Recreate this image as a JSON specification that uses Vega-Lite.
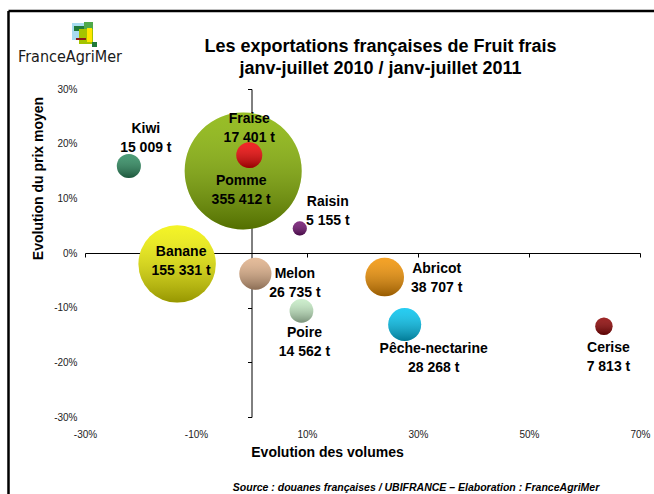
{
  "$schema": "https://vega.github.io/schema/vega-lite/v6.json",
  "width": 555,
  "height": 328,
  "autosize": {"type": "none"},
  "padding": {"left": 85, "top": 89, "right": 14, "bottom": 77},
  "background": "white",
  "config": {
    "view": {"stroke": null},
    "font": "Liberation Sans",
    "locale": {"number": {"decimal": ".", "thousands": " ", "grouping": [3], "currency": ["", ""], "minus": "-"}},
    "axis": {"labelFont": "Liberation Sans", "titleFont": "Liberation Sans"},
    "text": {"font": "Liberation Sans"}
  },
  "title": {
    "text": ["Les exportations françaises de Fruit frais", "janv-juillet 2010 / janv-juillet 2011"],
    "anchor": "middle",
    "frame": "group",
    "dx": 18,
    "baseline": "top",
    "offset": -68,
    "fontSize": 18,
    "fontWeight": "bold",
    "font": "Liberation Sans",
    "color": "#000000",
    "lineHeight": 22
  },
  "datasets": {
    "fruits": [
      {"fruit": "Pomme", "volume": 355412, "x": -0.015, "y": 0.150, "label": "Pomme\n355 412 t"},
      {"fruit": "Banane", "volume": 155331, "x": -0.134, "y": -0.020, "label": "Banane\n155 331 t"},
      {"fruit": "Abricot", "volume": 38707, "x": 0.240, "y": -0.044, "label": "Abricot\n38 707 t"},
      {"fruit": "Pêche-nectarine", "volume": 28268, "x": 0.276, "y": -0.131, "label": "Pêche-nectarine\n28 268 t"},
      {"fruit": "Melon", "volume": 26735, "x": 0.007, "y": -0.038, "label": "Melon\n26 735 t"},
      {"fruit": "Fraise", "volume": 17401, "x": -0.004, "y": 0.179, "label": "Fraise\n17 401 t"},
      {"fruit": "Kiwi", "volume": 15009, "x": -0.221, "y": 0.159, "label": "Kiwi\n15 009 t"},
      {"fruit": "Poire", "volume": 14562, "x": 0.090, "y": -0.106, "label": "Poire\n14 562 t"},
      {"fruit": "Cerise", "volume": 7813, "x": 0.635, "y": -0.134, "label": "Cerise\n7 813 t"},
      {"fruit": "Raisin", "volume": 5155, "x": 0.087, "y": 0.045, "label": "Raisin\n5 155 t"}
    ],
    "notes": [
      {"note": "Source : douanes françaises / UBIFRANCE – Elaboration : FranceAgriMer", "logo": "FranceAgriMer"}
    ]
  },
  "layer": [
    {
      "data": {"name": "fruits"},
      "transform": [{"filter": "datum.volume > 100000"}],
      "mark": {"type": "point", "shape": "circle", "filled": true, "opacity": 1, "strokeWidth": 0},
      "encoding": {
        "x": {"field": "x", "type": "quantitative", "scale": {"domain": [-0.3, 0.7], "nice": false, "zero": false},
          "axis": {"orient": "bottom", "values": [-0.3, -0.1, 0.1, 0.3, 0.5, 0.7], "format": ".0%", "domain": false, "ticks": false, "grid": false,
            "labelPadding": 12, "labelFontSize": 10, "labelColor": "#222222", "labelFlush": false, "labelOverlap": false, "labelBound": false,
            "title": "Evolution des volumes", "titleFontSize": 14, "titleFontWeight": "bold", "titleColor": "#000000",
            "titleX": 242, "titleY": 35, "titleAlign": "center", "titleBaseline": "middle"}},
        "y": {"field": "y", "type": "quantitative", "scale": {"domain": [-0.3, 0.3], "nice": false, "zero": false},
          "axis": {"orient": "left", "values": [-0.3, -0.2, -0.1, 0, 0.1, 0.2, 0.3], "format": ".0%", "domain": false, "ticks": false, "grid": false,
            "labelPadding": 8, "labelFontSize": 10, "labelColor": "#222222", "labelFlush": false, "labelOverlap": false, "labelBound": false,
            "title": "Evolution du prix moyen", "titleFontSize": 14, "titleFontWeight": "bold", "titleColor": "#000000",
            "titleX": -47, "titleY": 89, "titleAlign": "center", "titleBaseline": "middle", "titleAngle": -90}},
        "size": {"field": "volume", "type": "quantitative", "scale": {"type": "linear", "domain": [0, 355412], "range": [0, 13685]}, "legend": null},
        "color": {"field": "fruit", "type": "nominal", "legend": null,
          "scale": {"domain": ["Pomme", "Banane", "Abricot", "Pêche-nectarine", "Melon", "Fraise", "Kiwi", "Poire", "Cerise", "Raisin"],
            "range": ["#86b300", "#f2f200", "#f39200", "#00c4f0", "#e0b088", "#f00000", "#2b8a5e", "#c4ebc4", "#8c0000", "#6e0f6e"]}},
        "order": {"field": "volume", "type": "quantitative", "sort": "descending"}
      }
    },
    {
      "data": {"name": "fruits"},
      "transform": [{"filter": "datum.volume > 100000"}],
      "mark": {"type": "point", "shape": "circle", "filled": true, "opacity": 1, "strokeWidth": 0,
        "fill": {"gradient": "linear", "x1": 0, "y1": 0, "x2": 0, "y2": 1,
          "stops": [{"offset": 0, "color": "rgba(255,255,255,0.15)"}, {"offset": 1, "color": "rgba(0,0,0,0.38)"}]}},
      "encoding": {
        "x": {"field": "x", "type": "quantitative", "scale": {"domain": [-0.3, 0.7], "nice": false, "zero": false},
          "axis": {"orient": "bottom", "offset": -164, "values": [-0.3, -0.1, 0.1, 0.3, 0.5, 0.7], "labels": false, "title": null, "grid": false,
            "domain": true, "domainColor": "#000000", "domainWidth": 1, "ticks": true, "tickColor": "#000000", "tickWidth": 1, "tickSize": 4}},
        "y": {"field": "y", "type": "quantitative", "scale": {"domain": [-0.3, 0.3], "nice": false, "zero": false},
          "axis": {"orient": "left", "offset": -166.5, "values": [-0.3, -0.2, -0.1, 0, 0.1, 0.2, 0.3], "labels": false, "title": null, "grid": false,
            "domain": true, "domainColor": "#000000", "domainWidth": 1, "ticks": true, "tickColor": "#000000", "tickWidth": 1, "tickSize": 4}},
        "size": {"field": "volume", "type": "quantitative", "legend": null},
        "order": {"field": "volume", "type": "quantitative", "sort": "descending"}
      }
    },
    {
      "data": {"name": "fruits"},
      "transform": [{"filter": "datum.volume <= 100000"}],
      "mark": {"type": "point", "shape": "circle", "filled": true, "opacity": 1, "strokeWidth": 0},
      "encoding": {
        "x": {"field": "x", "type": "quantitative", "scale": {"domain": [-0.3, 0.7], "nice": false, "zero": false}, "axis": null},
        "y": {"field": "y", "type": "quantitative", "scale": {"domain": [-0.3, 0.3], "nice": false, "zero": false}, "axis": null},
        "size": {"field": "volume", "type": "quantitative", "legend": null},
        "color": {"field": "fruit", "type": "nominal", "legend": null},
        "order": {"field": "volume", "type": "quantitative", "sort": "descending"}
      }
    },
    {
      "data": {"name": "fruits"},
      "transform": [{"filter": "datum.volume <= 100000"}],
      "mark": {"type": "point", "shape": "circle", "filled": true, "opacity": 1, "strokeWidth": 0,
        "fill": {"gradient": "linear", "x1": 0, "y1": 0, "x2": 0, "y2": 1,
          "stops": [{"offset": 0, "color": "rgba(255,255,255,0.15)"}, {"offset": 1, "color": "rgba(0,0,0,0.38)"}]}},
      "encoding": {
        "x": {"field": "x", "type": "quantitative", "scale": {"domain": [-0.3, 0.7], "nice": false, "zero": false}, "axis": null},
        "y": {"field": "y", "type": "quantitative", "scale": {"domain": [-0.3, 0.3], "nice": false, "zero": false}, "axis": null},
        "size": {"field": "volume", "type": "quantitative", "legend": null},
        "order": {"field": "volume", "type": "quantitative", "sort": "descending"}
      }
    },
    {
      "data": {"name": "fruits"},
      "layer": [
        {"transform": [{"filter": "datum.fruit === 'Kiwi'"}],
         "mark": {"type": "text", "dx": 17, "dy": -33, "lineBreak": "\n", "lineHeight": 19, "fontSize": 14, "fontWeight": "bold", "color": "#000000", "align": "center", "baseline": "alphabetic"}},
        {"transform": [{"filter": "datum.fruit === 'Fraise'"}],
         "mark": {"type": "text", "dx": 0, "dy": -32.5, "lineBreak": "\n", "lineHeight": 19, "fontSize": 14, "fontWeight": "bold", "color": "#000000", "align": "center", "baseline": "alphabetic"}},
        {"transform": [{"filter": "datum.fruit === 'Pomme'"}],
         "mark": {"type": "text", "dx": -2, "dy": 14, "lineBreak": "\n", "lineHeight": 19, "fontSize": 14, "fontWeight": "bold", "color": "#000000", "align": "center", "baseline": "alphabetic"}},
        {"transform": [{"filter": "datum.fruit === 'Raisin'"}],
         "mark": {"type": "text", "dx": 28, "dy": -22.5, "lineBreak": "\n", "lineHeight": 19, "fontSize": 14, "fontWeight": "bold", "color": "#000000", "align": "center", "baseline": "alphabetic"}},
        {"transform": [{"filter": "datum.fruit === 'Banane'"}],
         "mark": {"type": "text", "dx": 4, "dy": -8, "lineBreak": "\n", "lineHeight": 19, "fontSize": 14, "fontWeight": "bold", "color": "#000000", "align": "center", "baseline": "alphabetic"}},
        {"transform": [{"filter": "datum.fruit === 'Melon'"}],
         "mark": {"type": "text", "dx": 39.5, "dy": 4, "lineBreak": "\n", "lineHeight": 19, "fontSize": 14, "fontWeight": "bold", "color": "#000000", "align": "center", "baseline": "alphabetic"}},
        {"transform": [{"filter": "datum.fruit === 'Abricot'"}],
         "mark": {"type": "text", "dx": 52, "dy": -4.5, "lineBreak": "\n", "lineHeight": 19, "fontSize": 14, "fontWeight": "bold", "color": "#000000", "align": "center", "baseline": "alphabetic"}},
        {"transform": [{"filter": "datum.fruit === 'Poire'"}],
         "mark": {"type": "text", "dx": 3, "dy": 26, "lineBreak": "\n", "lineHeight": 19, "fontSize": 14, "fontWeight": "bold", "color": "#000000", "align": "center", "baseline": "alphabetic"}},
        {"transform": [{"filter": "datum.fruit === 'Pêche-nectarine'"}],
         "mark": {"type": "text", "dx": 29, "dy": 28.5, "lineBreak": "\n", "lineHeight": 19, "fontSize": 14, "fontWeight": "bold", "color": "#000000", "align": "center", "baseline": "alphabetic"}},
        {"transform": [{"filter": "datum.fruit === 'Cerise'"}],
         "mark": {"type": "text", "dx": 4.5, "dy": 26, "lineBreak": "\n", "lineHeight": 19, "fontSize": 14, "fontWeight": "bold", "color": "#000000", "align": "center", "baseline": "alphabetic"}}
      ],
      "encoding": {
        "x": {"field": "x", "type": "quantitative", "scale": {"domain": [-0.3, 0.7], "nice": false, "zero": false}, "axis": null},
        "y": {"field": "y", "type": "quantitative", "scale": {"domain": [-0.3, 0.3], "nice": false, "zero": false}, "axis": null},
        "text": {"field": "label", "type": "nominal"}
      }
    },
    {
      "data": {"name": "notes"},
      "mark": {"type": "rule", "stroke": "#000000", "strokeWidth": 2.5},
      "encoding": {
        "x": {"datum": -0.43784, "type": "quantitative", "scale": {"domain": [-0.3, 0.7], "nice": false, "zero": false}, "axis": null},
        "y": {"datum": 0.44268, "type": "quantitative", "scale": {"domain": [-0.3, 0.3], "nice": false, "zero": false}, "axis": null},
        "y2": {"datum": -0.44085}
      }
    },
    {
      "data": {"name": "notes"},
      "mark": {"type": "rule", "stroke": "#000000", "strokeWidth": 2.5},
      "encoding": {
        "x": {"datum": -0.43784, "type": "quantitative", "scale": {"domain": [-0.3, 0.7], "nice": false, "zero": false}, "axis": null},
        "x2": {"datum": 0.72523},
        "y": {"datum": 0.44268, "type": "quantitative", "scale": {"domain": [-0.3, 0.3], "nice": false, "zero": false}, "axis": null}
      }
    },
    {
      "data": {"name": "notes"},
      "mark": {"type": "rect", "color": "#a8dcf0"},
      "encoding": {
        "x": {"datum": -0.32342, "type": "quantitative", "scale": {"domain": [-0.3, 0.7], "nice": false, "zero": false}, "axis": null},
        "x2": {"datum": -0.29820},
        "y": {"datum": 0.42073, "type": "quantitative", "scale": {"domain": [-0.3, 0.3], "nice": false, "zero": false}, "axis": null},
        "y2": {"datum": 0.38963}
      }
    },
    {
      "data": {"name": "notes"},
      "mark": {"type": "rect", "color": "#4fa84a"},
      "encoding": {
        "x": {"datum": -0.30180, "type": "quantitative", "scale": {"domain": [-0.3, 0.7], "nice": false, "zero": false}, "axis": null},
        "x2": {"datum": -0.28559},
        "y": {"datum": 0.42256, "type": "quantitative", "scale": {"domain": [-0.3, 0.3], "nice": false, "zero": false}, "axis": null},
        "y2": {"datum": 0.40793}
      }
    },
    {
      "data": {"name": "notes"},
      "mark": {"type": "rect", "color": "#1f7a3a"},
      "encoding": {
        "x": {"datum": -0.31982, "type": "quantitative", "scale": {"domain": [-0.3, 0.7], "nice": false, "zero": false}, "axis": null},
        "x2": {"datum": -0.30180},
        "y": {"datum": 0.41524, "type": "quantitative", "scale": {"domain": [-0.3, 0.3], "nice": false, "zero": false}, "axis": null},
        "y2": {"datum": 0.40610}
      }
    },
    {
      "data": {"name": "notes"},
      "mark": {"type": "rect", "color": "#a4c400"},
      "encoding": {
        "x": {"datum": -0.31081, "type": "quantitative", "scale": {"domain": [-0.3, 0.7], "nice": false, "zero": false}, "axis": null},
        "x2": {"datum": -0.28559},
        "y": {"datum": 0.40976, "type": "quantitative", "scale": {"domain": [-0.3, 0.3], "nice": false, "zero": false}, "axis": null},
        "y2": {"datum": 0.38232}
      }
    },
    {
      "data": {"name": "notes"},
      "mark": {"type": "rect", "color": "#ffe600"},
      "encoding": {
        "x": {"datum": -0.29640, "type": "quantitative", "scale": {"domain": [-0.3, 0.7], "nice": false, "zero": false}, "axis": null},
        "x2": {"datum": -0.28739},
        "y": {"datum": 0.41159, "type": "quantitative", "scale": {"domain": [-0.3, 0.3], "nice": false, "zero": false}, "axis": null},
        "y2": {"datum": 0.38597}
      }
    },
    {
      "data": {"name": "notes"},
      "mark": {"type": "rect", "color": "#8b1a1a"},
      "encoding": {
        "x": {"datum": -0.31622, "type": "quantitative", "scale": {"domain": [-0.3, 0.7], "nice": false, "zero": false}, "axis": null},
        "x2": {"datum": -0.29820},
        "y": {"datum": 0.39329, "type": "quantitative", "scale": {"domain": [-0.3, 0.3], "nice": false, "zero": false}, "axis": null},
        "y2": {"datum": 0.38963}
      }
    },
    {
      "data": {"name": "notes"},
      "mark": {"type": "rect", "color": "#1f7a3a"},
      "encoding": {
        "x": {"datum": -0.28739, "type": "quantitative", "scale": {"domain": [-0.3, 0.7], "nice": false, "zero": false}, "axis": null},
        "x2": {"datum": -0.27838},
        "y": {"datum": 0.38597, "type": "quantitative", "scale": {"domain": [-0.3, 0.3], "nice": false, "zero": false}, "axis": null},
        "y2": {"datum": 0.37683}
      }
    },
    {
      "data": {"name": "notes"},
      "mark": {"type": "text", "dx": -2, "dy": 71, "fontSize": 10.5, "fontStyle": "italic", "fontWeight": "bold", "baseline": "middle", "align": "center", "color": "#000000"},
      "encoding": {
        "x": {"datum": 0.3, "type": "quantitative", "scale": {"domain": [-0.3, 0.7], "nice": false, "zero": false}, "axis": null},
        "y": {"datum": -0.3, "type": "quantitative", "scale": {"domain": [-0.3, 0.3], "nice": false, "zero": false}, "axis": null},
        "text": {"field": "note", "type": "nominal"}
      }
    },
    {
      "data": {"name": "notes"},
      "mark": {"type": "text", "dx": -15, "dy": -32, "fontSize": 16, "font": "Liberation Sans Narrow, DejaVu Sans Condensed, sans-serif", "baseline": "middle", "align": "center", "color": "#1a1a1a"},
      "encoding": {
        "x": {"datum": -0.3, "type": "quantitative", "scale": {"domain": [-0.3, 0.7], "nice": false, "zero": false}, "axis": null},
        "y": {"datum": 0.3, "type": "quantitative", "scale": {"domain": [-0.3, 0.3], "nice": false, "zero": false}, "axis": null},
        "text": {"field": "logo", "type": "nominal"}
      }
    }
  ],
  "resolve": {"axis": {"x": "independent", "y": "independent"}}
}
